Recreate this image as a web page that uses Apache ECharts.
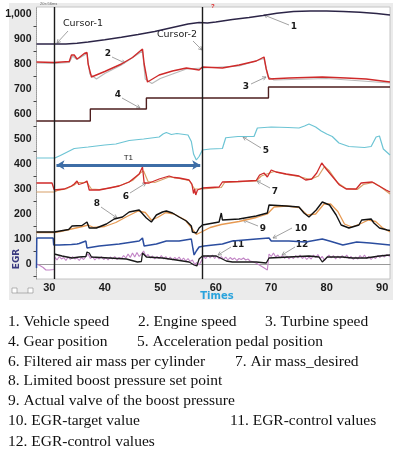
<!DOCTYPE html>
<html>
<head>
<meta charset="utf-8">
<script src="https://cdn.jsdelivr.net/npm/echarts@6.0.0/dist/echarts.min.js"></script>
<style>
  html, body { margin: 0; padding: 0; background: #fff; }
  #panel { position: absolute; left: 9px; top: 3px; width: 384px; height: 297px; background: #ebebeb; }
  #main { position: absolute; left: 0; top: 0; width: 397px; height: 460px; }
</style>
</head>
<body>
<div id="panel"></div>
<div id="main"></div>
<script>
// axis ticks
var xLabels = [30, 40, 50, 60, 70, 80, 90];
var yLabels = [0, 100, 200, 300, 400, 500, 600, 700, 800, 900, 1000];
var yMinorTicks = [-50, 50, 150, 250, 350, 450, 550, 650, 750, 850, 950];

// cursors (Times)
var cursors = [30.9, 57.6];
var t1Span = [31.3, 57.2];
var t1Level = 396;

// 1. Vehicle speed
var vehicleSpeed = [[27.7,880],[33,880],[35,883],[37,888],[40,897],[43,907],[46,918],[49,930],[52,945],[55,960],[57,966],[58.5,964],[60,968],[63,978],[66,986],[68.5,994],[71,1003],[74,1010],[77,1012],[80,1012],[83,1010],[86,1007],[89,1002],[91.4,996]];
// 2. Engine speed
var engineSpeed = [[27.7,808],[30.9,806],[33.6,810],[34,836],[34.5,836],[35,820],[35.4,826],[36.3,842],[36.8,846],[37,800],[37.6,748],[40,770],[43,800],[45,826],[46.8,860],[47.1,800],[47.7,728],[49.8,756],[52.2,772],[54.7,784],[57,776],[57.6,788],[61.2,784],[64.2,796],[67.3,812],[68.7,828],[69.1,780],[69.6,740],[73.2,744],[79.2,748],[83.5,744],[87.1,740],[91.4,728]];
// 3. Turbine speed
var turbineSpeed = [[27.7,804],[30.9,802],[33.6,806],[34.2,832],[35,818],[36.8,842],[37.3,760],[38.5,740],[40,762],[43,796],[46.8,852],[47.3,740],[48.5,722],[50,742],[54.7,780],[57.6,784],[64.2,792],[68.7,822],[69.4,748],[70.5,736],[80,742],[91.4,724]];
// 4. Gear position
var gearPosition = [[27.7,572],[37.4,620],[47.5,664],[69.5,708],[91.4,708]];
// 5. Acceleration pedal position
var pedalPosition = [[27.7,424],[31,424],[32,434],[34.5,462],[37,468],[40,476],[42,480],[44.4,494],[47,500],[49.8,508],[50.5,520],[51.1,526],[52,518],[53,522],[55,516],[55.6,490],[56,440],[56.5,416],[57,430],[57.6,456],[59,460],[61.2,462],[61.8,505],[64,510],[66.9,510],[67.5,544],[70,548],[73,546],[75,544],[76,552],[76.8,560],[78,548],[79,532],[80,520],[81,510],[82.2,484],[84,470],[86.8,466],[88,470],[88.9,508],[89.5,512],[90.2,460],[91.4,436]];
// 6. Filtered air mass per cylinder
var airMassFiltered = [[27.7,324],[30.5,324],[30.9,296],[32.7,300],[34,312],[34.5,320],[35,332],[35.3,318],[36.2,324],[36.8,332],[37.2,296],[39,296],[40.8,304],[42.6,312],[44.4,328],[46.2,360],[46.8,388],[47.1,324],[48,324],[49.8,340],[51.6,352],[52.5,346],[53.4,344],[55.2,336],[55.7,320],[56,282],[56.2,300],[56.4,276],[56.7,296],[57.6,304],[60.6,308],[61.2,328],[64,330],[67.3,334],[67.9,356],[68.7,364],[69.3,348],[70,376],[70.9,368],[72.7,360],[75,352],[76.2,336],[77.3,340],[78.2,364],[79.1,404],[79.9,380],[80.8,356],[82.3,316],[83.5,300],[85.3,300],[86.2,324],[88.2,328],[89.1,316],[90.7,296],[91.4,288]];
// 7. Air mass_desired
var airMassDesired = [[27.7,288],[30.9,288],[31.5,294],[33,300],[34.5,316],[35,326],[36.8,326],[37.6,300],[39,298],[41,304],[43,316],[45,334],[46.5,366],[47,372],[47.8,330],[49,326],[51.6,348],[53.4,342],[55.2,334],[56.2,300],[57.6,300],[61,306],[61.6,326],[67.3,332],[68.2,352],[69.2,360],[70.5,370],[72.7,358],[75,350],[77,338],[78.5,352],[79.6,390],[80.5,372],[82,324],[83.5,302],[85.5,298],[86.6,318],[88.4,326],[89.5,312],[91.4,280]];
// 8. Limited boost pressure set point
var boostSetPoint = [[27.7,128],[30.9,128],[31.2,136],[33.5,138],[34.1,152],[35.9,154],[36.8,168],[37.2,144],[38.5,144],[40.3,160],[41.7,180],[43.2,188],[44.4,208],[46.2,216],[47.5,184],[48.4,168],[49.3,196],[50.4,208],[51.1,212],[52.2,204],[53.4,188],[54.7,172],[55.6,152],[55.8,128],[56.5,124],[57,144],[57.6,156],[60.6,168],[61,204],[61.2,176],[64.2,180],[67.3,192],[69.3,204],[69.6,236],[72.7,232],[75,228],[75.9,204],[76.8,188],[78.1,216],[79.2,248],[80.5,236],[81.7,196],[82.6,156],[84,144],[85.8,156],[86.3,176],[88,180],[88.5,164],[89.5,144],[90.9,136],[91.4,134]];
// 9. Actual valve of the boost pressure
var boostActual = [[27.7,126],[30.9,126],[32,130],[34,140],[36,150],[37,156],[38,146],[40,150],[42,166],[44,190],[46,212],[47.3,206],[48.4,176],[49.5,186],[51,206],[52.5,200],[54.5,176],[55.8,140],[56.5,118],[57.6,130],[59,146],[61,158],[64.2,170],[67.3,186],[69.3,200],[70.5,228],[72.7,232],[75,226],[76.5,196],[78,200],[79.5,240],[80.7,240],[82,210],[83.2,160],[84.5,148],[86,160],[87.5,176],[88.8,170],[90,146],[91.4,128]];
// 10. EGR-target value
var egrTarget = [[27.7,-16],[27.75,104],[30.7,104],[30.8,76],[31.8,76],[34,78],[34.1,86],[35,80],[35.4,82],[36.6,92],[36.8,64],[39,72],[42.6,80],[46.2,92],[46.8,104],[47.1,72],[49.3,80],[51.1,92],[53.4,92],[55.6,100],[55.9,60],[56.1,36],[56.5,52],[57,68],[57.9,72],[61.2,80],[63,92],[67.3,100],[69.6,104],[70,92],[73.2,92],[76.2,88],[79.2,100],[80.5,92],[82.9,76],[85.4,88],[87.8,84],[91.4,76]];
// 11. EGR-control values
var egrControl = [[30.9,40],[31.2,36],[32.3,32],[34.1,24],[35.4,28],[36.6,30],[36.8,48],[37.2,44],[37.6,28],[40.8,24],[43.9,20],[45.9,8],[46.6,10],[46.8,44],[47.5,28],[50.4,24],[52.9,16],[55.2,8],[56.1,-4],[56.6,-8],[57,20],[57.6,32],[58.3,32],[60.1,32],[61.9,12],[63,8],[67.3,8],[69.1,4],[69.6,24],[73.2,28],[76.8,32],[78.6,28],[79.2,8],[80.1,28],[82.8,28],[84.6,24],[87.1,24],[89.5,32],[91.4,36]];
// 12. EGR-control values (raw)
var egrControlRaw = [[27.7,0],[28.3,-6],[28.9,-14],[29.4,-24],[30,-24],[30.9,-22],[31,28],[31.4,16],[31.8,30],[32.2,20],[32.6,26],[33,14],[33.4,28],[33.8,18],[34.2,30],[34.6,20],[35,24],[35.4,14],[35.8,26],[36.2,18],[36.6,30],[37,40],[37.4,22],[37.8,30],[38.2,16],[38.6,26],[39,20],[39.4,30],[39.8,18],[40.2,26],[40.6,16],[41,28],[41.4,20],[41.8,30],[42.2,18],[42.6,26],[43,22],[43.4,34],[43.8,24],[44.2,40],[44.6,26],[45,44],[45.4,28],[45.8,46],[46.2,30],[46.6,40],[47,52],[47.4,30],[47.8,38],[48.2,24],[48.6,32],[49,20],[49.4,30],[49.8,22],[50.2,34],[50.6,20],[51,30],[51.4,18],[51.8,28],[52.2,16],[52.6,26],[53,18],[53.4,28],[53.8,14],[54.2,24],[54.6,12],[55,22],[55.4,10],[55.8,16],[56.2,-2],[56.6,6],[57,-4],[57.4,12],[57.8,30],[58.2,22],[58.6,34],[59,24],[59.4,36],[59.8,22],[60.2,32],[60.6,20],[61,30],[61.4,18],[61.8,28],[62.2,16],[62.6,26],[63,18],[63.4,24],[63.8,14],[64.2,22],[64.6,18],[65,24],[65.4,16],[65.8,20],[66.2,12],[66.8,8],[67.4,2],[68,-6],[68.6,-14],[69.3,-24],[69.6,40],[70,30],[70.4,44],[70.8,28],[71.2,36],[71.6,24],[72,34],[72.4,22],[72.8,32],[73.2,20],[73.6,30],[74,22],[74.4,34],[74.8,24],[75.2,36],[75.6,22],[76,30],[76.4,18],[76.8,28],[77.2,20],[77.6,36],[78,26],[78.4,38],[78.8,22],[79.2,30],[79.6,14],[80,26],[80.4,36],[80.8,24],[81.2,34],[81.6,20],[82,32],[82.4,22],[82.8,34],[83.2,24],[83.6,36],[84,22],[84.4,30],[84.8,18],[85.2,28],[85.6,20],[86,34],[86.4,24],[86.8,36],[87.2,22],[87.6,30],[88,18],[88.4,28],[88.8,22],[89.2,34],[89.6,26],[90,36],[90.4,28],[90.8,38],[91.4,30]];

// callouts: text, text x, text y, line from, line to
var callouts = [
  ['Cursor-1', 83, 24, 68, 31, 57, 43],
  ['Cursor-2', 177, 35, 193, 41, 202, 50],
  ['1', 294, 27, 289, 25, 264, 15],
  ['2', 108, 54, 112, 57, 125, 63],
  ['3', 246, 87, 251, 84, 266, 77],
  ['4', 118, 95, 122, 98, 140, 108],
  ['5', 266, 151, 261, 148, 243, 137],
  ['6', 126, 197, 130, 193, 146, 183],
  ['7', 275, 192, 270, 188, 257, 181],
  ['8', 97, 204, 101, 207, 117, 218],
  ['9', 263, 229, 258, 226, 243, 220],
  ['10', 301, 229, 292, 228, 273, 238],
  ['11', 238, 245, 231, 247, 218, 255],
  ['12', 302, 245, 295, 247, 282, 255]
];

// caption lines under the chart
var captions = [
  ['1. Vehicle speed', 8, 322], ['2. Engine speed', 138, 322], ['3. Turbine speed', 265, 322],
  ['4. Gear position', 8, 342], ['5. Acceleration pedal position', 137, 342],
  ['6. Filtered air mass per cylinder', 8, 362], ['7. Air mass_desired', 235, 362],
  ['8. Limited boost pressure set point', 8, 381],
  ['9. Actual valve of the boost pressure', 8, 401],
  ['10. EGR-target value', 8, 421], ['11. EGR-control values', 230, 421],
  ['12. EGR-control values', 8, 442]
];

function line(name, data, color, width, z) {
  return {
    name: name, type: 'line', data: data, showSymbol: false, silent: true,
    lineStyle: { color: color, width: width }, z: z || 2
  };
}

var myChart = echarts.init(document.getElementById('main'));

var graphics = [];
callouts.forEach(function (c) {
  var big = c[0].length > 2;
  graphics.push({
    type: 'text', left: null, x: c[1], y: c[2], silent: true,
    style: {
      text: c[0], fill: '#1a1a1a', align: 'center', verticalAlign: 'middle',
      font: (big ? 'normal 9.5px' : 'bold 9px') + ' "DejaVu Sans", sans-serif'
    }
  });
  graphics.push({
    type: 'line', silent: true,
    shape: { x1: c[3], y1: c[4], x2: c[5], y2: c[6] },
    style: { stroke: '#8a8a8a', lineWidth: 0.8 }
  });
  // small arrow head
  var a = Math.atan2(c[6] - c[4], c[5] - c[3]);
  var L = 4;
  graphics.push({
    type: 'polyline', silent: true,
    shape: { points: [
      [c[5] - L * Math.cos(a - 0.5), c[6] - L * Math.sin(a - 0.5)],
      [c[5], c[6]],
      [c[5] - L * Math.cos(a + 0.5), c[6] - L * Math.sin(a + 0.5)]
    ] },
    style: { stroke: '#8a8a8a', lineWidth: 0.8, fill: null }
  });
});
captions.forEach(function (c) {
  graphics.push({
    type: 'text', x: c[1], y: c[2], silent: true,
    style: { text: c[0], fill: '#111', verticalAlign: 'middle', font: '15.5px "Liberation Serif", "Times New Roman", serif' }
  });
});
// axis names and small widgets
graphics.push({
  type: 'text', x: 217, y: 296, silent: true,
  style: { text: 'Times', fill: '#2aa3dc', align: 'center', verticalAlign: 'middle', font: 'bold 10px "DejaVu Sans", sans-serif' }
});
graphics.push({
  type: 'text', x: 17, y: 259, rotation: Math.PI / 2, silent: true,
  style: { text: 'EGR', fill: '#3b3b80', align: 'center', verticalAlign: 'middle', font: 'bold 9px "DejaVu Sans", sans-serif' }
});
graphics.push({
  type: 'text', x: 40, y: 4, silent: true,
  style: { text: '20s:56ms', fill: '#666', verticalAlign: 'middle', font: '4px sans-serif' }
});
graphics.push({
  type: 'text', x: 211, y: 6, silent: true,
  style: { text: '?', fill: '#d22', verticalAlign: 'middle', font: 'bold 6px sans-serif' }
});
graphics.push({ type: 'rect', shape: { x: 12, y: 288, width: 5, height: 5 }, style: { fill: '#fff', stroke: '#888', lineWidth: 0.6 } });
graphics.push({ type: 'rect', shape: { x: 28, y: 288, width: 5, height: 5 }, style: { fill: '#fff', stroke: '#888', lineWidth: 0.6 } });
graphics.push({ type: 'line', shape: { x1: 17, y1: 293, x2: 28, y2: 293 }, style: { stroke: '#888', lineWidth: 0.6 } });

var option = {
  animation: false,
  grid: {
    left: 36.5, top: 7, right: 7, bottom: 181,
    show: true, backgroundColor: '#ffffff', borderColor: '#c4c4c4', borderWidth: 1
  },
  xAxis: {
    type: 'value', min: 27.7, max: 91.4,
    axisLine: { show: true, lineStyle: { color: '#9a9a9a', width: 1 } },
    axisTick: { show: false },
    splitLine: { show: false },
    axisLabel: {
      customValues: xLabels, margin: 3,
      color: '#1a1a1a', fontWeight: 'bold', fontSize: 11, fontFamily: 'Liberation Sans'
    }
  },
  yAxis: {
    type: 'value', min: -60, max: 1028,
    axisLine: { show: true, lineStyle: { color: '#9a9a9a', type: 'dotted' } },
    axisTick: { show: true, customValues: yMinorTicks, length: 3, inside: false, lineStyle: { color: '#444' } },
    splitLine: { show: false },
    axisLabel: {
      customValues: yLabels, margin: 5,
      color: '#1a1a1a', fontWeight: 'bold', fontSize: 10.5, fontFamily: 'Liberation Sans'
    }
  },
  graphic: graphics,
  series: [
    line('Turbine speed', turbineSpeed, '#b9b9b9', 1.2, 1),
    line('Engine speed', engineSpeed, '#cf2a2a', 1.4),
    line('Vehicle speed', vehicleSpeed, '#2c2547', 1.4),
    Object.assign(line('Gear position', gearPosition, '#4e1f1f', 1.4), { step: 'end' }),
    line('Acceleration pedal position', pedalPosition, '#6cc4d4', 1.2),
    line('Air mass_desired', airMassDesired, '#d8a068', 1.2, 1),
    line('Filtered air mass per cylinder', airMassFiltered, '#cf2a2a', 1.3),
    line('Actual valve of the boost pressure', boostActual, '#e79a52', 1.3, 1),
    line('Limited boost pressure set point', boostSetPoint, '#121212', 1.4),
    line('EGR-target value', egrTarget, '#2b4d9f', 1.5),
    line('EGR-control values raw', egrControlRaw, '#c284c6', 1.1, 1),
    line('EGR-control values', egrControl, '#1a1a1a', 1.3),
    {
      name: 'markers', type: 'line', data: [], silent: true, z: 5,
      markLine: {
        silent: true, symbol: 'none', animation: false,
        label: { show: false },
        lineStyle: { color: '#1c1c1c', width: 1.4, type: 'solid' },
        data: cursors.map(function (c) { return { xAxis: c }; })
      }
    },
    {
      name: 'T1', type: 'line', data: [], silent: true, z: 6,
      markLine: {
        silent: true, animation: false,
        symbol: ['arrow', 'arrow'], symbolSize: [7, 8],
        lineStyle: { color: '#3d6da6', width: 3, type: 'solid' },
        label: { show: true, position: 'insideMiddleTop', formatter: 'T1', color: '#222', fontSize: 8, distance: 3 },
        data: [[{ coord: [t1Span[0], t1Level] }, { coord: [t1Span[1], t1Level] }]]
      }
    }
  ]
};

myChart.setOption(option);
</script>
</body>
</html>
